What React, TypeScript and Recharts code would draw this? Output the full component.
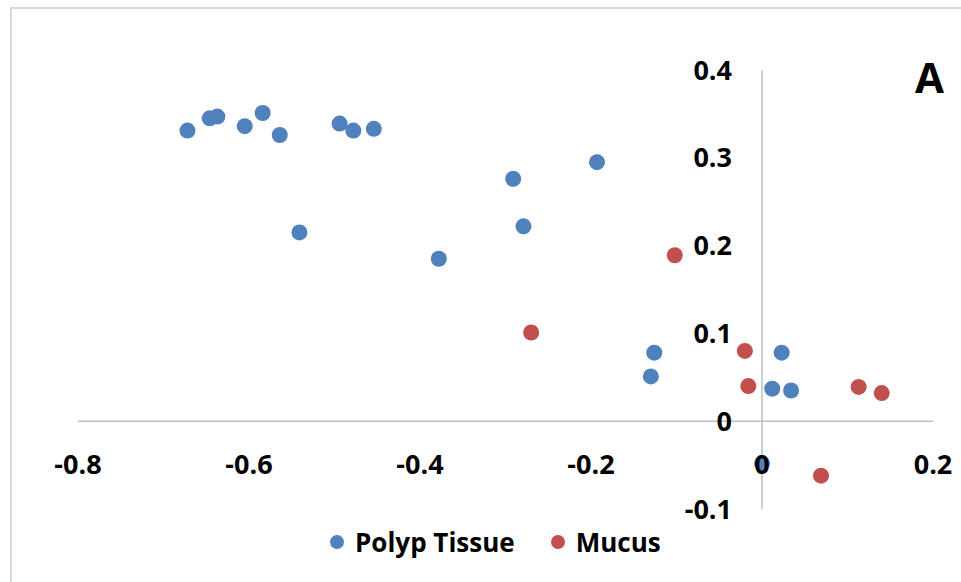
import { Legend, ReferenceLine, Scatter, ScatterChart, XAxis, YAxis } from "recharts"

const polypX = [-0.672, -0.646, -0.637, -0.605, -0.584, -0.564, -0.494, -0.478, -0.454, -0.541, -0.378, -0.291, -0.279, -0.193, -0.126, -0.13, 0.023, 0.012, 0.034, 0.0]
const polypY = [0.331, 0.345, 0.347, 0.336, 0.351, 0.326, 0.339, 0.331, 0.333, 0.215, 0.185, 0.276, 0.222, 0.295, 0.078, 0.051, 0.078, 0.037, 0.035, -0.048]

const mucusX = [-0.102, -0.27, -0.02, -0.016, 0.113, 0.14, 0.069]
const mucusY = [0.189, 0.101, 0.08, 0.04, 0.039, 0.032, -0.062]

const xTicks = [-0.8, -0.6, -0.4, -0.2, 0, 0.2]
const yTicks = [-0.1, 0, 0.1, 0.2, 0.3, 0.4]

const seriesNames = ["Polyp Tissue", "Mucus"]
const seriesColors = ["#4F81BD", "#C0504D"]

const polyp = polypX.map((x, i) => ({ x, y: polypY[i] }))
const mucus = mucusX.map((x, i) => ({ x, y: mucusY[i] }))

const FONT = '"Open Sans", sans-serif'
const AXIS_COLOR = "#BFBFBF"

function Dot(props: any) {
  const { cx, cy, fill } = props
  return <circle cx={cx} cy={cy} r={8} fill={fill} />
}

// x labels sit under the zero line, not at the bottom of the plot
function XTick(props: any) {
  const { x, payload } = props
  return (
    <text x={x} y={474} textAnchor="middle" fontFamily={FONT} fontWeight={700} fontSize={27} fill="#000">
      {payload.value}
    </text>
  )
}

// y labels sit left of the zero line
function YTick(props: any) {
  const { y, payload } = props
  return (
    <text x={732} y={y + 9.5} textAnchor="end" fontFamily={FONT} fontWeight={700} fontSize={27} fill="#000">
      {payload.value}
    </text>
  )
}

function LegendContent() {
  return (
    <div
      style={{
        display: "flex",
        alignItems: "center",
        fontFamily: FONT,
        fontWeight: 700,
        fontSize: 26,
        lineHeight: "30px",
        color: "#000",
        whiteSpace: "nowrap",
      }}
    >
      {seriesNames.map((n, i) => (
        <div key={n} style={{ display: "flex", alignItems: "center", marginRight: 36 }}>
          <svg width={14} height={14} style={{ marginRight: 11 }}>
            <circle cx={7} cy={7} r={7} fill={seriesColors[i]} />
          </svg>
          <span>{n}</span>
        </div>
      ))}
    </div>
  )
}

export default function App() {
  return (
    <div
      style={{
        position: "absolute",
        left: 0,
        top: 0,
        width: 961,
        height: 582,
        overflow: "hidden",
        background: "#fff",
      }}
    >
      <div
        style={{
          position: "absolute",
          left: 10,
          top: 7,
          width: 1000,
          height: 700,
          border: "2px solid #D9D9D9",
        }}
      />
      <ScatterChart
        width={961}
        height={582}
        margin={{ top: 70, right: 28, bottom: 72, left: 77 }}
        style={{ position: "absolute", left: 0, top: 0 }}
      >
        <XAxis
          type="number"
          dataKey="x"
          domain={[-0.8, 0.2]}
          ticks={xTicks}
          height={1}
          axisLine={false}
          tickLine={false}
          tick={<XTick />}
          interval={0}
        />
        <YAxis
          type="number"
          dataKey="y"
          domain={[-0.1, 0.4]}
          ticks={yTicks}
          width={1}
          axisLine={false}
          tickLine={false}
          tick={<YTick />}
          interval={0}
        />
        <ReferenceLine x={0} stroke={AXIS_COLOR} strokeWidth={1.5} />
        <ReferenceLine y={0} stroke={AXIS_COLOR} strokeWidth={1.5} />
        <Scatter
          name={seriesNames[0]}
          data={polyp}
          fill={seriesColors[0]}
          shape={<Dot />}
          isAnimationActive={false}
        />
        <Scatter
          name={seriesNames[1]}
          data={mucus}
          fill={seriesColors[1]}
          shape={<Dot />}
          isAnimationActive={false}
        />
        <Legend
          verticalAlign="middle"
          align="center"
          content={<LegendContent />}
          wrapperStyle={{ top: 527, left: 330, width: "auto" }}
        />
      </ScatterChart>
      <div
        style={{
          position: "absolute",
          left: 908,
          top: 49,
          width: 43,
          textAlign: "center",
          fontFamily: FONT,
          fontWeight: 700,
          fontSize: 42,
          lineHeight: "56px",
          color: "#000",
        }}
      >
        A
      </div>
    </div>
  )
}
